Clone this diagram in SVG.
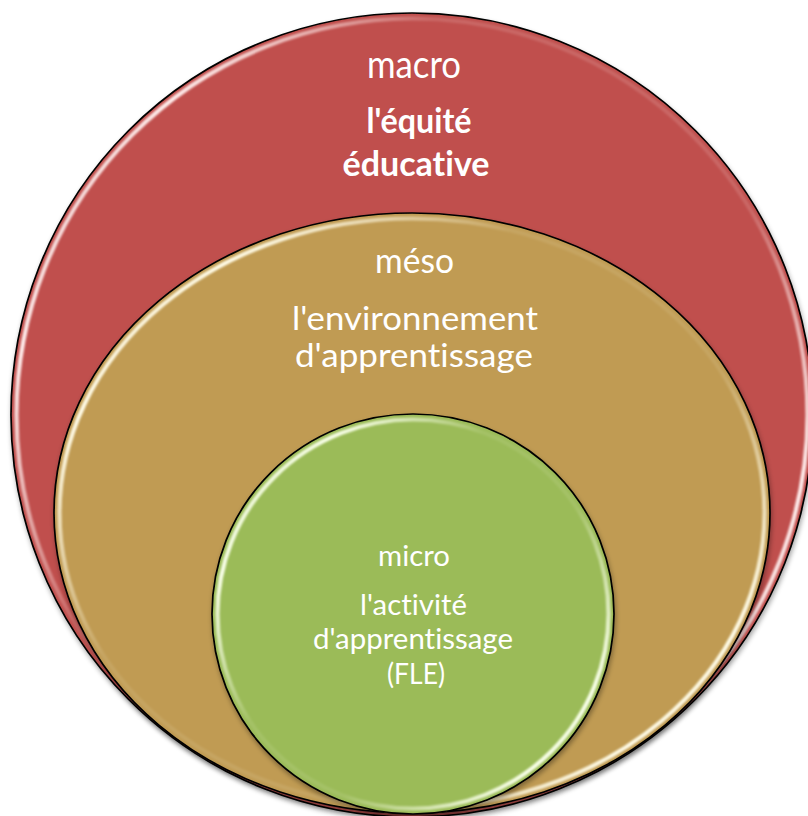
<svg xmlns="http://www.w3.org/2000/svg" width="808" height="816" viewBox="0 0 808 816">
  <defs>
    <filter id="shadow" x="-10%" y="-10%" width="120%" height="120%">
      <feGaussianBlur in="SourceAlpha" stdDeviation="2.5"/>
      <feOffset dx="1" dy="3" result="b"/>
      <feComponentTransfer><feFuncA type="linear" slope="0.35"/></feComponentTransfer>
      <feMerge><feMergeNode/><feMergeNode in="SourceGraphic"/></feMerge>
    </filter>
    <filter id="soft" x="-5%" y="-5%" width="110%" height="110%">
      <feGaussianBlur stdDeviation="0.8"/>
    </filter>
    <linearGradient id="rimRed" x1="0" y1="0.2" x2="1" y2="0.8">
      <stop offset="0" stop-color="#ffffff" stop-opacity="0.5"/>
      <stop offset="0.1" stop-color="#ffeceb" stop-opacity="1"/>
      <stop offset="0.3" stop-color="#ffeceb" stop-opacity="0.15"/>
      <stop offset="0.7" stop-color="#ffeceb" stop-opacity="0.15"/>
      <stop offset="0.9" stop-color="#ffeceb" stop-opacity="1"/>
      <stop offset="1" stop-color="#ffffff" stop-opacity="0.6"/>
    </linearGradient>
    <linearGradient id="rimTan" x1="0" y1="0.1" x2="1" y2="0.9">
      <stop offset="0" stop-color="#fffbe6" stop-opacity="0.5"/>
      <stop offset="0.13" stop-color="#fffbe6" stop-opacity="1"/>
      <stop offset="0.35" stop-color="#fffbe6" stop-opacity="0.1"/>
      <stop offset="0.65" stop-color="#fffbe6" stop-opacity="0.1"/>
      <stop offset="0.88" stop-color="#fffbe6" stop-opacity="1"/>
      <stop offset="1" stop-color="#fffbe6" stop-opacity="0.6"/>
    </linearGradient>
    <linearGradient id="rimGreen" x1="0" y1="0.1" x2="1" y2="0.9">
      <stop offset="0" stop-color="#f8ffe8" stop-opacity="0.6"/>
      <stop offset="0.15" stop-color="#f8ffe8" stop-opacity="1"/>
      <stop offset="0.38" stop-color="#f8ffe8" stop-opacity="0.1"/>
      <stop offset="0.62" stop-color="#f8ffe8" stop-opacity="0.1"/>
      <stop offset="0.88" stop-color="#f8ffe8" stop-opacity="1"/>
      <stop offset="1" stop-color="#f8ffe8" stop-opacity="0.6"/>
    </linearGradient>
    <style>
      .edge { stroke: #000; stroke-width: 1.7; }
      .rim { fill: none; stroke-width: 4.2; filter: url(#soft); }
      .lbl { fill: #ffffff; font-family: Lato, "Liberation Sans", sans-serif; text-anchor: middle; font-variant-ligatures: none; }
      .b { font-weight: bold; }
    </style>
  </defs>

  <g id="macro">
    <ellipse cx="412" cy="415" rx="401" ry="402" fill="#C0504D" class="edge" filter="url(#shadow)"/>
    <ellipse cx="412" cy="415" rx="395.5" ry="396.5" class="rim" stroke="url(#rimRed)"/>
    <text class="lbl" x="414" y="78" font-size="38" textLength="94" lengthAdjust="spacingAndGlyphs">macro</text>
    <text class="lbl b" x="419" y="133" font-size="35" textLength="105" lengthAdjust="spacingAndGlyphs">l'équité</text>
    <text class="lbl b" x="416" y="176" font-size="35" textLength="147" lengthAdjust="spacingAndGlyphs">éducative</text>
  </g>

  <g id="meso">
    <ellipse cx="412" cy="513" rx="358" ry="300" fill="#C09B53" class="edge" filter="url(#shadow)"/>
    <ellipse cx="412" cy="513" rx="352.5" ry="294.5" class="rim" stroke="url(#rimTan)"/>
    <text class="lbl" x="414.5" y="273" font-size="34" textLength="79" lengthAdjust="spacingAndGlyphs">méso</text>
    <text class="lbl" x="415" y="330" font-size="32" textLength="246" lengthAdjust="spacingAndGlyphs">l'environnement</text>
    <text class="lbl" x="414" y="367" font-size="32" textLength="238" lengthAdjust="spacingAndGlyphs">d'apprentissage</text>
  </g>

  <g id="micro">
    <ellipse cx="413" cy="614" rx="201" ry="200" fill="#9BBB59" class="edge" filter="url(#shadow)"/>
    <ellipse cx="413" cy="614" rx="195.5" ry="194.5" class="rim" stroke="url(#rimGreen)"/>
    <text class="lbl" x="414" y="566" font-size="28" textLength="72" lengthAdjust="spacingAndGlyphs">micro</text>
    <text class="lbl" x="413.5" y="615" font-size="28" textLength="107" lengthAdjust="spacingAndGlyphs">l'activité</text>
    <text class="lbl" x="413" y="649" font-size="28" textLength="200" lengthAdjust="spacingAndGlyphs">d'apprentissage</text>
    <text class="lbl" x="416" y="684" font-size="28" textLength="58" lengthAdjust="spacingAndGlyphs">(FLE)</text>
  </g>

  <g id="connectors"/>
</svg>
